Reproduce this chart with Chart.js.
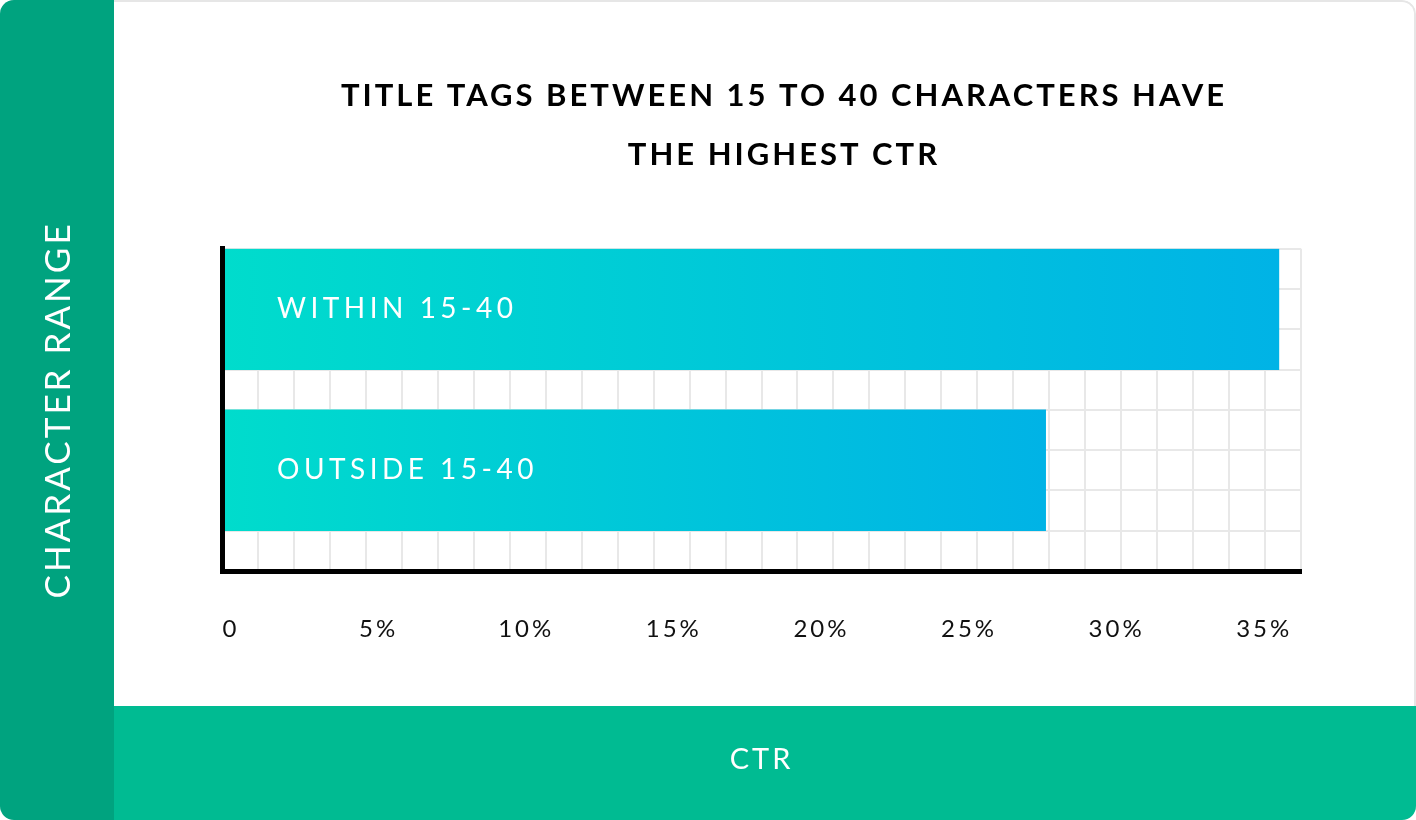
<!DOCTYPE html>
<html>
<head>
<meta charset="utf-8">
<title>Title tags CTR</title>
<script src="https://cdn.jsdelivr.net/npm/chart.js@4.4.1/dist/chart.umd.min.js"></script>
<style>
  html, body { margin: 0; padding: 0; background: #fff; overflow: hidden; }
  #card {
    position: relative;
    width: 1416px;
    height: 820px;
    border-radius: 14px;
    overflow: hidden;
    background: #fff;
  }
  #card::before {
    content: '';
    position: absolute;
    inset: 0;
    border-top: 2px solid #e6e6e6;
    border-right: 2px solid #e6e6e6;
    border-radius: 14px;
    z-index: 0;
  }
  .band-left {
    position: absolute; left: 0; top: 0; width: 114px; height: 820px;
    background: #00a37f; z-index: 1;
  }
  .band-bottom {
    position: absolute; left: 114px; right: 0; top: 706px; height: 114px;
    background: #00bb92; z-index: 1;
  }
  #chart { position: absolute; left: 0; top: 0; z-index: 2; }
</style>
</head>
<body>
<div id="card">
  <div class="band-left"></div>
  <div class="band-bottom"></div>
  <canvas id="chart" width="1568" height="820"></canvas>
</div>
<script>
// data
const titleLines = ['TITLE TAGS BETWEEN 15 TO 40 CHARACTERS HAVE', 'THE HIGHEST CTR'];
const categories = ['WITHIN 15-40', 'OUTSIDE 15-40'];
const ctrValues = [35.8, 27.9];
const tickValues = [0, 5, 10, 15, 20, 25, 30, 35];
const xAxisTitle = 'CTR';
const yAxisTitle = 'CHARACTER RANGE';

Chart.defaults.font.family = 'Lato, "Open Sans", sans-serif';

// each bar takes 3 of the 8 grid rows, one empty row between them
const rowsPerBar = 4;
const barData = categories.map((c, i) => ({ x: ctrValues[i], y: i * rowsPerBar + 1.5 }));

// canvas letter spacing (reset whenever the canvas is resized)
const spacing = {
  id: 'spacing',
  beforeLayout(chart) { chart.ctx.letterSpacing = '3px'; },
  beforeDraw(chart) { chart.ctx.letterSpacing = '3px'; }
};

// category names written inside the bars
const barLabels = {
  id: 'barLabels',
  afterDatasetsDraw(chart) {
    const ctx = chart.ctx;
    const meta = chart.getDatasetMeta(0);
    ctx.save();
    ctx.font = '400 28px Lato, "Open Sans", sans-serif';
    ctx.letterSpacing = '4.5px';
    ctx.fillStyle = '#fff';
    ctx.textAlign = 'left';
    ctx.textBaseline = 'middle';
    meta.data.forEach((bar, i) => {
      ctx.fillText(categories[i], bar.base + 55, bar.y);
    });
    ctx.restore();
  }
};

const chart = new Chart(document.querySelector('#chart'), {
  type: 'bar',
  data: {
    datasets: [{
      data: barData,
      borderWidth: 0,
      barThickness: 'flex',
      categoryPercentage: 0.75,
      barPercentage: 1,
      backgroundColor: (c) => {
        const area = c.chart.chartArea;
        if (!area || c.type !== 'data') return '#00c8dc';
        const xs = c.chart.scales.x;
        const g = c.chart.ctx.createLinearGradient(xs.getPixelForValue(0), 0, xs.getPixelForValue(c.raw.x), 0);
        g.addColorStop(0, '#00dccc');
        g.addColorStop(1, '#00b3e6');
        return g;
      }
    }]
  },
  options: {
    indexAxis: 'y',
    responsive: false,
    animation: false,
    layout: { padding: 0 },
    plugins: {
      legend: { display: false },
      tooltip: { enabled: false },
      title: {
        display: true,
        text: titleLines,
        color: '#000',
        font: { size: 31, weight: 'bold', lineHeight: 1.884 },
        padding: { top: 67, bottom: 65 }
      }
    },
    scales: {
      x: {
        type: 'linear',
        position: 'bottom',
        min: 0,
        max: 36.55,
        afterBuildTicks: (s) => { s.ticks = tickValues.map(v => ({ value: v })); },
        afterFit: (s) => { s.height = 249; },
        grid: { display: false, drawTicks: false },
        border: { display: true, color: '#000', width: 5, z: 1 },
        ticks: {
          color: '#111',
          font: { size: 24 },
          padding: 44,
          labelOffset: 9,
          callback: (v) => v === 0 ? '0' : v + '%'
        },
        title: {
          display: true,
          text: xAxisTitle,
          color: '#fff',
          font: { size: 29 },
          padding: { top: 0, bottom: 43 }
        }
      },
      xGrid: {
        type: 'linear',
        position: 'bottom',
        min: 0,
        max: 30,
        ticks: { display: false, stepSize: 1 },
        grid: { color: '#e8e8e8', lineWidth: 2, drawTicks: false },
        border: { display: false }
      },
      y: {
        type: 'linear',
        position: 'left',
        reverse: true,
        offset: false,
        min: 0,
        max: 8,
        afterFit: (s) => { s.width = 222; },
        ticks: { display: false, stepSize: 1 },
        grid: { color: '#e8e8e8', lineWidth: 2, drawTicks: false, offset: false },
        border: { display: true, color: '#000', width: 5, z: 1 },
        title: {
          display: true,
          text: yAxisTitle,
          color: '#fff',
          font: { size: 35 },
          padding: { top: 38, bottom: 0 }
        }
      },
      yRight: {
        type: 'linear',
        position: 'right',
        afterFit: (s) => { s.width = 267; },
        ticks: { display: false },
        grid: { display: false, drawTicks: false },
        border: { display: false }
      }
    }
  },
  plugins: [spacing, barLabels]
});
</script>
</body>
</html>
